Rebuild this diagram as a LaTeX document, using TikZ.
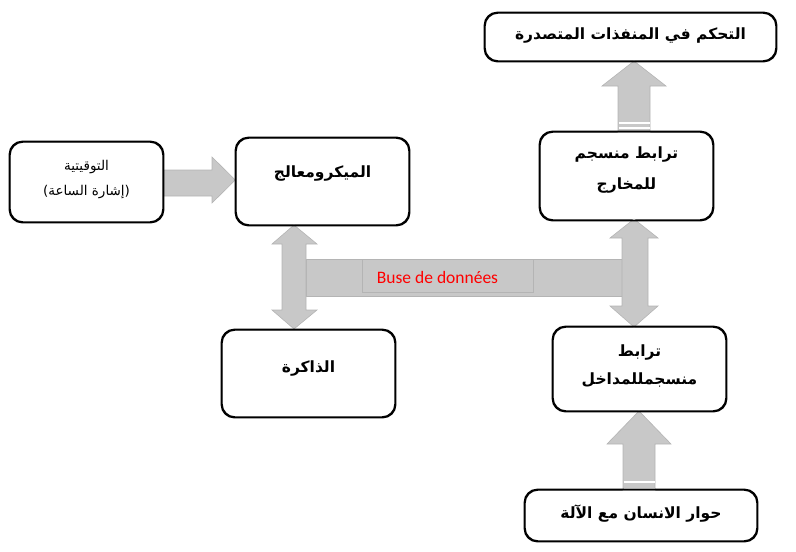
\documentclass[tikz,border=0pt]{standalone}
\usepackage{fontspec}
\usetikzlibrary{calc}
\TeXXeTstate=1
\newfontfamily\arabicfont[Script=Arabic]{DejaVu Sans}
\newfontfamily\latinfont{Carlito}
\definecolor{arrowgray}{HTML}{C8C8C8}
\definecolor{arrowedge}{HTML}{B4B4B4}
\begin{document}
\begin{tikzpicture}[x=1pt,y=-1pt,
  box/.style={draw=black,line width=1.4pt,rounded corners=13pt,fill=white,inner sep=0pt},
  lbl/.style={font=\arabicfont\bfseries\fontsize{15.5}{20}\selectfont,align=center,inner sep=0pt},
  smalllbl/.style={font=\arabicfont\fontsize{13.5}{25}\selectfont,align=center,inner sep=0pt},
  blockarrow/.style={fill=arrowgray,draw=arrowedge,line width=0.6pt},
  gap/.style={draw=white,line width=1.2pt}]
\useasboundingbox (0,0) rectangle (796,552);

% boxes
\node[box,minimum width=153pt,minimum height=80pt] (timing) at (86.5,182) {};
\node[box,minimum width=173pt,minimum height=87pt] (micro) at (322.5,181.5) {};
\node[box,minimum width=173pt,minimum height=87pt] (memory) at (308.5,373.5) {};
\node[box,minimum width=173pt,minimum height=88pt] (outif) at (626.5,176) {};
\node[box,minimum width=291pt,minimum height=48pt] (control) at (630.5,37) {};
\node[box,minimum width=173pt,minimum height=84pt] (inif) at (639.5,369) {};
\node[box,minimum width=232pt,minimum height=51pt] (hmi) at (641,515.5) {};

% labels
\node[smalllbl] (timingtxt) at (86.5,180) {\beginR التوقيتية\endR\\\beginR (إشارة الساعة)\endR};
\node[lbl] (microtxt) at (322.5,174) {\beginR الميكرومعالج\endR};
\node[lbl] (memtxt) at (308.5,368) {\beginR الذاكرة\endR};
\node[lbl,font=\arabicfont\bfseries\fontsize{15.5}{31}\selectfont] (outtxt) at (626.5,170) {\beginR ترابط منسجم\endR\\\beginR للمخارج\endR};
\node[lbl] (ctrltxt) at (630.5,36) {\beginR التحكم في المنفذات المتصدرة\endR};
\node[lbl,font=\arabicfont\bfseries\fontsize{15.5}{28}\selectfont] (intxt) at (639.5,366) {\beginR ترابط\endR\\\beginR منسجمللمداخل\endR};
\node[lbl] (hmitxt) at (641,514) {\beginR حوار الانسان مع الآلة\endR};

% data bus
\path[blockarrow] (306,259) rectangle (622,296);
\node[draw=arrowedge,fill=arrowgray,minimum width=171pt,minimum height=33pt,inner sep=0pt] (bus) at (447.5,275.5) {};
\node[font=\latinfont\fontsize{17.5}{20}\selectfont,text=red,inner sep=0pt] (bustxt) at (437.5,277) {Buse de données};

% timing -> micro
\path[blockarrow] (timing.east |- 0,170) -- (212,170) -- (212,157) -- (micro.west |- 0,180)
  -- (212,203) -- (212,196) -- (timing.east |- 0,196) -- cycle;

% micro <-> memory
\path[blockarrow] (294,225) -- (317,244) -- (306,244) -- (306,310) -- (317,310) -- (294,329)
  -- (272,310) -- (282,310) -- (282,244) -- (272,244) -- cycle;

% output interface <-> bus <-> input interface
\path[blockarrow] (634,219) -- (658,238) -- (648,238) -- (648,306) -- (658,306) -- (634,327)
  -- (610,306) -- (622,306) -- (622,238) -- (610,238) -- cycle;

% output interface -> control
\path[blockarrow] (634,61) -- (666,86) -- (650,86) -- (650,132) -- (618,132) -- (618,86) -- (602,86) -- cycle;
\draw[gap] (618.5,123) -- (649.5,123);
\draw[gap] (618.5,128) -- (649.5,128);

% hmi -> input interface
\path[blockarrow] (639,411) -- (671,444) -- (655,444) -- (655,490) -- (623,490) -- (623,444) -- (607,444) -- cycle;
\draw[gap] (623.5,482) -- (654.5,482);
\draw[gap] (623.5,489) -- (654.5,489);

% redraw box borders on top
\foreach \n in {micro,memory,outif,control,inif,hmi,timing}{
  \draw[line width=1.4pt,rounded corners=13pt] (\n.north west) rectangle (\n.south east);
}
\end{tikzpicture}
\end{document}
